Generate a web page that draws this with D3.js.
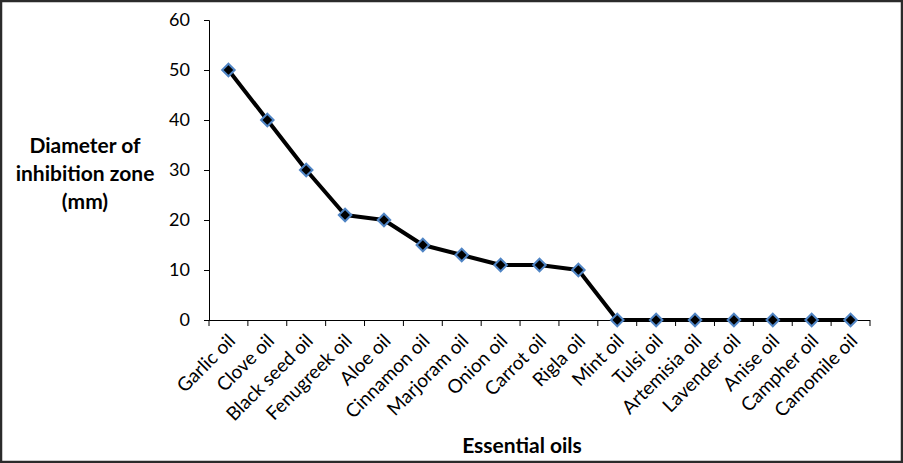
<!DOCTYPE html>
<html>
<head>
<meta charset="utf-8">
<script src="https://cdn.jsdelivr.net/npm/d3@7"></script>
<style>
  body { margin: 0; background: #fff; }
  svg text { font-family: Lato, "Open Sans", sans-serif; fill: #000; }
</style>
</head>
<body>
<svg id="chart" width="903" height="463"></svg>
<script>
// values
const oils = ["Garlic oil", "Clove oil", "Black seed oil", "Fenugreek oil", "Aloe oil",
  "Cinnamon oil", "Marjoram oil", "Onion oil", "Carrot oil", "Rigla oil", "Mint oil",
  "Tulsi oil", "Artemisia oil", "Lavender oil", "Anise oil", "Campher oil", "Camomile oil"];
const zones = [50, 40, 30, 21, 20, 15, 13, 11, 11, 10, 0, 0, 0, 0, 0, 0, 0];
const yTicks = [0, 10, 20, 30, 40, 50, 60];

const svg = d3.select("svg#chart");

// outer frame
svg.append("rect").attr("x", 1).attr("y", 1).attr("width", 901).attr("height", 461)
  .attr("fill", "#fff").attr("stroke", "#2b2b2b").attr("stroke-width", 2.5);

const x = d3.scaleBand().domain(oils).range([209, 870]);
const y = d3.scaleLinear().domain([0, 60]).range([320, 20]);

// y axis
const yAxis = svg.append("g").attr("transform", "translate(209,0)")
  .call(d3.axisLeft(y).tickValues(yTicks).tickSize(5).tickPadding(14));
yAxis.select(".domain").attr("stroke", "#000").attr("stroke-width", 1);
yAxis.selectAll(".tick line").attr("stroke", "#000");
yAxis.selectAll(".tick text").style("font-size", "18px");

// x axis, ticks on category boundaries
const xAxis = svg.append("g").attr("transform", "translate(0,320)");
xAxis.append("line").attr("x1", 209).attr("x2", 870).attr("y1", 0.5).attr("y2", 0.5)
  .attr("stroke", "#000");
xAxis.selectAll("line.tk").data(oils.concat(["end"])).join("line").attr("class", "tk")
  .attr("x1", (d, i) => i < oils.length ? x(d) : x.range()[1])
  .attr("x2", (d, i) => i < oils.length ? x(d) : x.range()[1])
  .attr("y1", 0).attr("y2", 6).attr("stroke", "#000");
xAxis.selectAll("text").data(oils).join("text")
  .attr("transform", d => "translate(" + (x(d) + x.bandwidth() / 2 + 8) + ",22) rotate(-45)")
  .attr("text-anchor", "end")
  .style("font-size", "19px")
  .text(d => d);

// line + markers
const cx = d => x(d) + x.bandwidth() / 2;
const line = d3.line().x(d => cx(d[0])).y(d => y(d[1]));
const pts = oils.map((o, i) => [o, zones[i]]);
svg.append("path").datum(pts).attr("d", line)
  .attr("fill", "none").attr("stroke", "#000").attr("stroke-width", 4)
  .attr("stroke-linejoin", "round");
svg.selectAll("path.marker").data(pts).join("path").attr("class", "marker")
  .attr("d", d3.symbol().type(d3.symbolDiamond2).size(100))
  .attr("transform", d => "translate(" + cx(d[0]) + "," + y(d[1]) + ")")
  .attr("fill", "#000").attr("stroke", "#4f84c4").attr("stroke-width", 2);

// axis titles
const yTitle = svg.append("text").attr("x", 85).attr("y", 153)
  .attr("text-anchor", "middle").style("font-size", "21px").style("font-weight", "bold");
["Diameter of", "inhibition zone", "(mm)"].forEach((t, i) => {
  yTitle.append("tspan").attr("x", 85).attr("dy", i === 0 ? 0 : 28).text(t);
});
svg.append("text").attr("x", 522).attr("y", 453).attr("text-anchor", "middle")
  .style("font-size", "21px").style("font-weight", "bold").text("Essential oils");
</script>
</body>
</html>
